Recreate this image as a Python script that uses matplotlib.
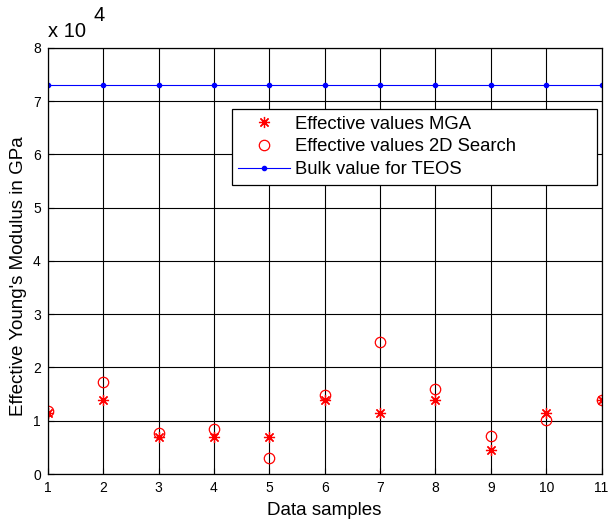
import matplotlib
matplotlib.use('Agg')
import matplotlib.pyplot as plt
from matplotlib.ticker import FuncFormatter

plt.rcParams['font.family'] = ['Liberation Sans', 'DejaVu Sans']

# data, Young's modulus in GPa (axis shows x 10^4)
samples = [1, 2, 3, 4, 5, 6, 7, 8, 9, 10, 11]
mga_vals = [11500, 13800, 7000, 7000, 7000, 13900, 11400, 13800, 4600, 11500, 13800]
search2d_vals = [11900, 17200, 7700, 8400, 3000, 14900, 24700, 15900, 7200, 10200, 13800]
bulk_teos = [73000] * 11

fig = plt.figure(figsize=(6.08, 5.25), dpi=100)
ax = fig.add_axes([0.0785, 0.0971, 0.911, 0.812])

ax.plot(samples, mga_vals, linestyle='none', marker=(8, 2, 0), color='red',
        markersize=8, markeredgewidth=0.9, label='Effective values MGA')
ax.plot(samples, search2d_vals, linestyle='none', marker='o', markerfacecolor='none',
        markeredgecolor='red', markersize=7.5, markeredgewidth=0.9,
        label='Effective values 2D Search')
ax.plot(samples, bulk_teos, color='blue', linewidth=0.8, marker='.', markersize=6,
        label='Bulk value for TEOS')

ax.set_xlim(1, 11)
ax.set_ylim(0, 80000)
ax.set_xticks(range(1, 12))
ax.set_yticks(range(0, 80001, 10000))
ax.yaxis.set_major_formatter(FuncFormatter(lambda v, p: '%d' % round(v / 10000)))
ax.tick_params(direction='in', labelsize=10, length=4, width=0.8, pad=5)
ax.grid(True, color='black', linestyle='-', linewidth=0.8)
for s in ax.spines.values():
    s.set_linewidth(0.9)

ax.set_xlabel('Data samples', fontsize=13.5, labelpad=5)
ax.set_ylabel("Effective Young's Modulus in GPa", fontsize=13.5)
ax.yaxis.set_label_coords(-0.038, 0.464)

leg = ax.legend(loc='upper left', bbox_to_anchor=(0.332, 0.684, 0.660, 0.172),
                mode='expand', fontsize=13.3, fancybox=False, framealpha=1,
                edgecolor='black', borderaxespad=0, handlelength=2.8,
                handletextpad=0.3, labelspacing=0.32, borderpad=0.35)
leg.get_frame().set_linewidth(0.9)

fig.text(48 / 608, 1 - 37 / 525, 'x 10', fontsize=14.5, va='baseline')
fig.text(94 / 608, 1 - 21 / 525, '4', fontsize=14.5, va='baseline')

fig.savefig('out.png', dpi=100)
